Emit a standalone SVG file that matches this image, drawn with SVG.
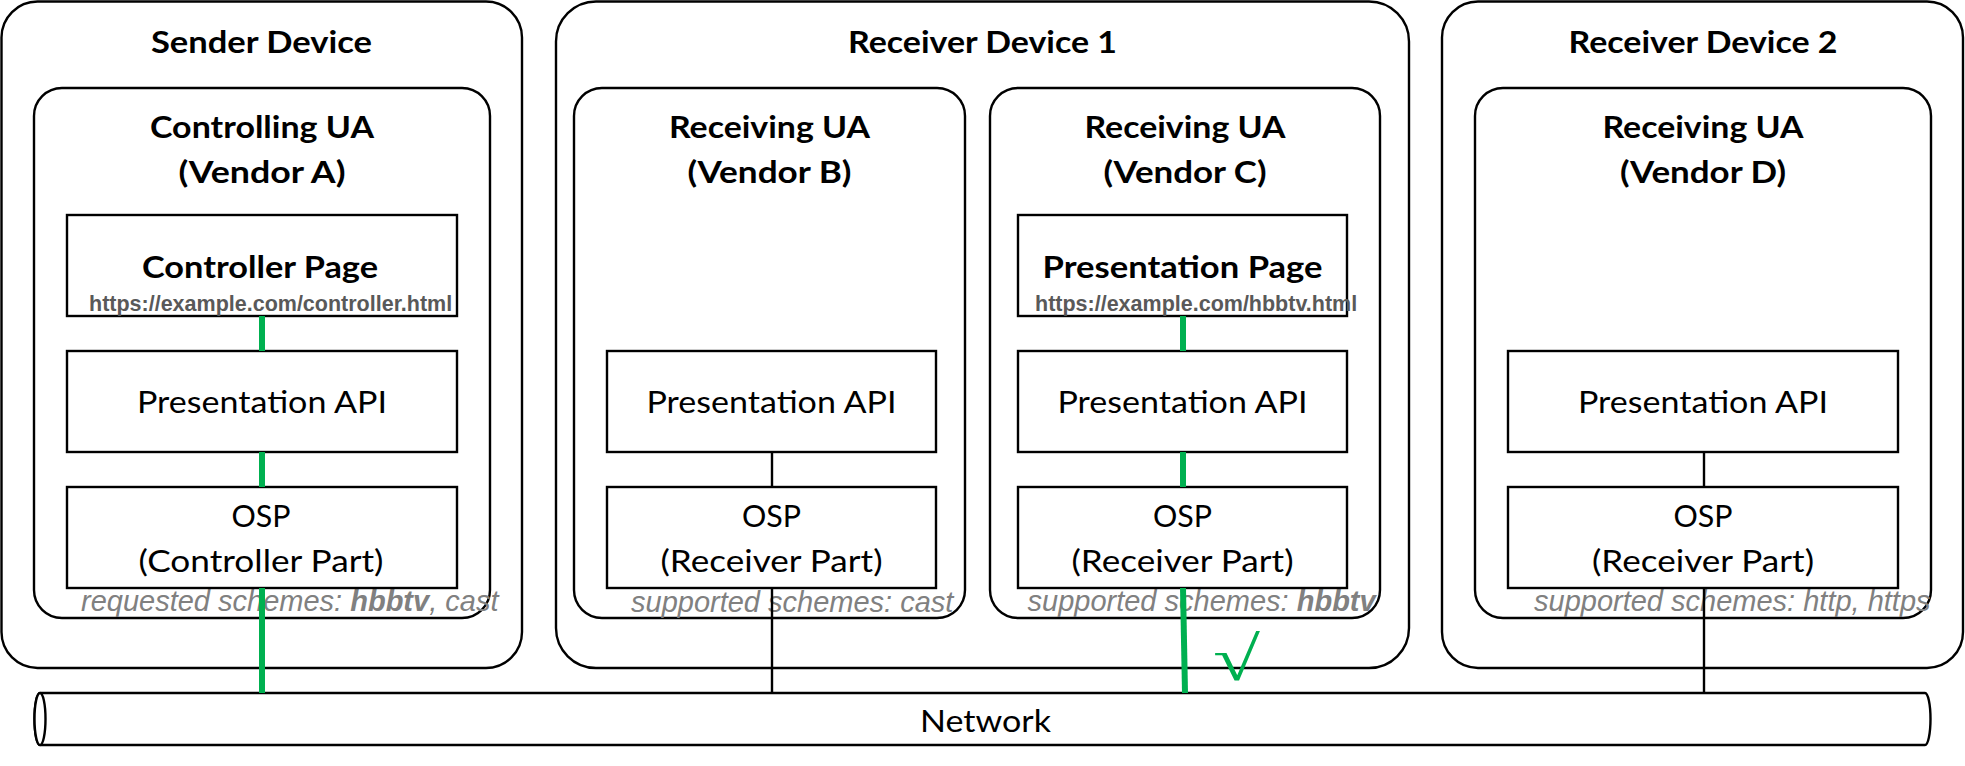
<svg xmlns="http://www.w3.org/2000/svg" width="1965" height="766" viewBox="0 0 1965 766">
<style>
  .box { fill: #ffffff; stroke: #000000; stroke-width: 2.4; }
  .title { font-family: Lato, "Liberation Sans", sans-serif; font-weight: bold; font-size: 31px; fill: #000000; text-anchor: middle; }
  .label { font-family: Lato, "Liberation Sans", sans-serif; font-size: 31px; fill: #000000; text-anchor: middle; }
  .url { font-family: "Liberation Sans", Arial, sans-serif; font-weight: bold; font-size: 21.5px; fill: #595959; }
  .scheme { font-family: "Liberation Sans", Arial, sans-serif; font-style: italic; font-size: 29px; fill: #808080; }
  .scheme .b { font-weight: bold; }
  .green { stroke: #00B050; stroke-width: 6; fill: none; }
  .black { stroke: #000000; stroke-width: 2.4; fill: none; }
</style>
<rect width="1965" height="766" fill="#ffffff"/>

<g id="sender-device">
  <rect class="box" x="1.5" y="1.5" width="520.5" height="666.5" rx="36" ry="36"/>
  <text class="title" x="261.5" y="53" textLength="221" lengthAdjust="spacingAndGlyphs">Sender Device</text>
</g>
<g id="receiver-device-1">
  <rect class="box" x="556" y="1.5" width="853" height="666.5" rx="40" ry="40"/>
  <text class="title" x="982.5" y="53" textLength="269" lengthAdjust="spacingAndGlyphs">Receiver Device 1</text>
</g>
<g id="receiver-device-2">
  <rect class="box" x="1442" y="1.5" width="521" height="666.5" rx="36" ry="36"/>
  <text class="title" x="1703" y="53" textLength="269" lengthAdjust="spacingAndGlyphs">Receiver Device 2</text>
</g>

<g id="ua-a">
  <rect class="box" x="34" y="88" width="456" height="530" rx="28" ry="28"/>
  <text class="title" x="262" y="138" textLength="224" lengthAdjust="spacingAndGlyphs">Controlling UA</text>
  <text class="title" x="262" y="183" textLength="167" lengthAdjust="spacingAndGlyphs">(Vendor A)</text>
  <text class="scheme" x="81" y="611">requested schemes: <tspan class="b">hbbtv</tspan>, cast</text>
</g>
<g id="ua-b">
  <rect class="box" x="574" y="88" width="391" height="530" rx="28" ry="28"/>
  <text class="title" x="769.5" y="138" textLength="201" lengthAdjust="spacingAndGlyphs">Receiving UA</text>
  <text class="title" x="769.5" y="183" textLength="164" lengthAdjust="spacingAndGlyphs">(Vendor B)</text>
  <text class="scheme" x="631" y="612">supported schemes: cast</text>
</g>
<g id="ua-c">
  <rect class="box" x="990" y="88" width="390" height="530" rx="28" ry="28"/>
  <text class="title" x="1185" y="138" textLength="201" lengthAdjust="spacingAndGlyphs">Receiving UA</text>
  <text class="title" x="1185" y="183" textLength="163" lengthAdjust="spacingAndGlyphs">(Vendor C)</text>
  <text class="scheme" x="1027.5" y="611">supported schemes: <tspan class="b">hbbtv</tspan></text>
</g>
<g id="ua-d">
  <rect class="box" x="1475" y="88" width="456" height="530" rx="28" ry="28"/>
  <text class="title" x="1703" y="138" textLength="201" lengthAdjust="spacingAndGlyphs">Receiving UA</text>
  <text class="title" x="1703" y="183" textLength="166" lengthAdjust="spacingAndGlyphs">(Vendor D)</text>
  <text class="scheme" x="1534" y="611">supported schemes: http, https</text>
</g>

<g id="controller-page">
  <rect class="box" x="67" y="215" width="390" height="101"/>
  <text class="title" x="260" y="278" textLength="236" lengthAdjust="spacingAndGlyphs">Controller Page</text>
  <text class="url" x="89" y="311">https://example.com/controller.html</text>
</g>
<g id="presentation-page">
  <rect class="box" x="1018" y="215" width="329" height="101"/>
  <text class="title" x="1182.5" y="278" textLength="280" lengthAdjust="spacingAndGlyphs">Presentation Page</text>
  <text class="url" x="1035" y="311">https://example.com/hbbtv.html</text>
</g>

<g id="api-a">
  <rect class="box" x="67" y="351" width="390" height="101"/>
  <text class="label" x="262" y="413" textLength="250" lengthAdjust="spacingAndGlyphs">Presentation API</text>
</g>
<g id="api-b">
  <rect class="box" x="607" y="351" width="329" height="101"/>
  <text class="label" x="771.5" y="413" textLength="250" lengthAdjust="spacingAndGlyphs">Presentation API</text>
</g>
<g id="api-c">
  <rect class="box" x="1018" y="351" width="329" height="101"/>
  <text class="label" x="1182.5" y="413" textLength="250" lengthAdjust="spacingAndGlyphs">Presentation API</text>
</g>
<g id="api-d">
  <rect class="box" x="1508" y="351" width="390" height="101"/>
  <text class="label" x="1703" y="413" textLength="250" lengthAdjust="spacingAndGlyphs">Presentation API</text>
</g>

<g id="osp-a">
  <rect class="box" x="67" y="487" width="390" height="101"/>
  <text class="label" x="261" y="527" textLength="59" lengthAdjust="spacingAndGlyphs">OSP</text>
  <text class="label" x="261" y="572" textLength="245" lengthAdjust="spacingAndGlyphs">(Controller Part)</text>
</g>
<g id="osp-b">
  <rect class="box" x="607" y="487" width="329" height="101"/>
  <text class="label" x="771.5" y="527" textLength="59" lengthAdjust="spacingAndGlyphs">OSP</text>
  <text class="label" x="771.5" y="572" textLength="222" lengthAdjust="spacingAndGlyphs">(Receiver Part)</text>
</g>
<g id="osp-c">
  <rect class="box" x="1018" y="487" width="329" height="101"/>
  <text class="label" x="1182.5" y="527" textLength="59" lengthAdjust="spacingAndGlyphs">OSP</text>
  <text class="label" x="1182.5" y="572" textLength="222" lengthAdjust="spacingAndGlyphs">(Receiver Part)</text>
</g>
<g id="osp-d">
  <rect class="box" x="1508" y="487" width="390" height="101"/>
  <text class="label" x="1703" y="527" textLength="59" lengthAdjust="spacingAndGlyphs">OSP</text>
  <text class="label" x="1703" y="572" textLength="222" lengthAdjust="spacingAndGlyphs">(Receiver Part)</text>
</g>

<g id="network">
  <path class="box" d="M40,693 L1925,693 A5.5,26 0 0 1 1925,745 L40,745 A5.5,26 0 0 1 40,693 Z"/>
  <ellipse class="box" cx="40" cy="719" rx="5.5" ry="26"/>
  <text class="label" x="985.5" y="732" textLength="131" lengthAdjust="spacingAndGlyphs">Network</text>
</g>

<g id="connectors">
  <line class="green" x1="262" y1="316" x2="262" y2="351"/>
  <line class="green" x1="262" y1="452" x2="262" y2="487"/>
  <line class="green" x1="262" y1="588" x2="262" y2="693"/>
  <line class="black" x1="772" y1="452" x2="772" y2="487"/>
  <line class="black" x1="772" y1="588" x2="772" y2="693"/>
  <line class="green" x1="1183" y1="316" x2="1183" y2="351"/>
  <line class="green" x1="1183" y1="452" x2="1183" y2="487"/>
  <line class="green" x1="1183" y1="588" x2="1185" y2="693"/>
  <line class="black" x1="1704" y1="452" x2="1704" y2="487"/>
  <line class="black" x1="1704" y1="588" x2="1704" y2="693"/>
</g>

<g id="check">
  <text x="1213" y="680" font-family="'Liberation Serif', 'DejaVu Serif', serif" font-size="62" fill="#00B050" textLength="47" lengthAdjust="spacingAndGlyphs">√</text>
</g>
</svg>
